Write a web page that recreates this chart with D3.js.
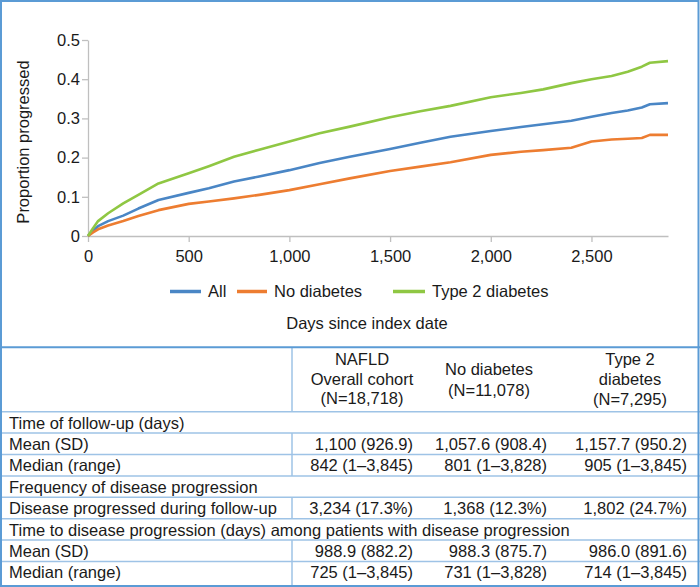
<!DOCTYPE html>
<html>
<head>
<meta charset="utf-8">
<script src="https://cdn.jsdelivr.net/npm/d3@7"></script>
<style>
  html, body { margin: 0; padding: 0; background: #fff; }
  svg { display: block; font-family: "Liberation Sans", Arial, sans-serif; }
</style>
</head>
<body>
<svg id="chart" width="700" height="587"></svg>
<script>
// ---------- DATA ----------
const days        = [0, 25, 50, 100, 175, 250, 350, 500, 600, 725, 850, 1000, 1150, 1300, 1500, 1650, 1800, 2000, 2150, 2260, 2400, 2500, 2600, 2680, 2750, 2790, 2880];
const allValues   = [0, 0.013, 0.025, 0.038, 0.052, 0.070, 0.092, 0.110, 0.122, 0.139, 0.152, 0.168, 0.186, 0.202, 0.222, 0.238, 0.253, 0.268, 0.278, 0.285, 0.294, 0.304, 0.314, 0.320, 0.328, 0.336, 0.339];
const noDiabetes  = [0, 0.009, 0.017, 0.027, 0.038, 0.051, 0.066, 0.082, 0.088, 0.096, 0.105, 0.117, 0.132, 0.147, 0.166, 0.177, 0.188, 0.207, 0.215, 0.219, 0.225, 0.241, 0.246, 0.248, 0.250, 0.258, 0.258];
const type2       = [0, 0.020, 0.038, 0.058, 0.083, 0.105, 0.134, 0.160, 0.178, 0.202, 0.220, 0.241, 0.262, 0.279, 0.303, 0.318, 0.332, 0.354, 0.365, 0.374, 0.390, 0.400, 0.408, 0.419, 0.432, 0.442, 0.446];
const seriesNames = ["All", "No diabetes", "Type 2 diabetes"];
const xTicks      = [0, 500, 1000, 1500, 2000, 2500];
const xTickLabels = ["0", "500", "1,000", "1,500", "2,000", "2,500"];
const yTicks      = [0, 0.1, 0.2, 0.3, 0.4, 0.5];
const yTickLabels = ["0", "0.1", "0.2", "0.3", "0.4", "0.5"];
const xTitle = "Days since index date";
const yTitle = "Proportion progressed";

const colHeaders = [
  ["NAFLD", "Overall cohort", "(N=18,718)"],
  ["No diabetes", "(N=11,078)"],
  ["Type 2", "diabetes", "(N=7,295)"]
];
const tableRows = [
  { label: "Time of follow-up (days)", section: true },
  { label: "Mean (SD)", values: ["1,100 (926.9)", "1,057.6 (908.4)", "1,157.7 (950.2)"] },
  { label: "Median (range)", values: ["842 (1\u20133,845)", "801 (1\u20133,828)", "905 (1\u20133,845)"] },
  { label: "Frequency of disease progression", section: true },
  { label: "Disease progressed during follow-up", values: ["3,234 (17.3%)", "1,368 (12.3%)", "1,802 (24.7%)"] },
  { label: "Time to disease progression (days) among patients with disease progression", section: true },
  { label: "Mean (SD)", values: ["988.9 (882.2)", "988.3 (875.7)", "986.0 (891.6)"] },
  { label: "Median (range)", values: ["725 (1\u20133,845)", "731 (1\u20133,828)", "714 (1\u20133,845)"] }
];

// ---------- STYLE / LAYOUT ----------
const colors = ["#4a86c5", "#ed7d31", "#8fc743"];
const frameColor = "#5b9bd5";
const lineColor = "#9ec3e6";
const textColor = "#1a1a1a";
const axisColor = "#bfbfbf";
const fs = "16.5px";

const svg = d3.select("#chart");
const W = 700, H = 587;

const x = d3.scaleLinear().domain([0, 2880]).range([88, 668]);
const y = d3.scaleLinear().domain([0, 0.5]).range([236, 40]);

// axes
const xAxis = d3.axisBottom(x).tickValues(xTicks)
  .tickFormat((d, i) => xTickLabels[i]).tickSize(6).tickPadding(8).tickSizeOuter(0);
const yAxis = d3.axisLeft(y).tickValues(yTicks)
  .tickFormat((d, i) => yTickLabels[i]).tickSize(6).tickPadding(2).tickSizeOuter(0);

const gx = svg.append("g").attr("transform", `translate(0,${y(0)})`).call(xAxis);
const gy = svg.append("g").attr("transform", `translate(${x(0)},0)`).call(yAxis);
[gx, gy].forEach(g => {
  g.selectAll("path, line").attr("stroke", axisColor).attr("stroke-width", 1.3);
  g.selectAll("text").attr("fill", textColor).style("font-size", fs)
    .style("font-family", "'Liberation Sans', Arial, sans-serif");
});

// lines
const seriesData = [allValues, noDiabetes, type2];
const line = d3.line().x((d, i) => x(days[i])).y(d => y(d));
seriesData.forEach((vals, k) => {
  svg.append("path").datum(vals)
    .attr("d", line)
    .attr("fill", "none")
    .attr("stroke", colors[k])
    .attr("stroke-width", 2.6)
    .attr("stroke-linejoin", "round");
});

// y title
svg.append("text")
  .attr("transform", `translate(29,142) rotate(-90)`)
  .attr("text-anchor", "middle")
  .attr("fill", textColor)
  .style("font-size", fs)
  .text(yTitle);

// legend
const legendItems = [
  { x1: 170, x2: 201, tx: 208 },
  { x1: 237, x2: 267, tx: 274 },
  { x1: 393, x2: 425, tx: 432 }
];
const legendY = 291.5;
seriesNames.forEach((name, k) => {
  const it = legendItems[k];
  svg.append("line").attr("x1", it.x1).attr("x2", it.x2)
    .attr("y1", legendY).attr("y2", legendY)
    .attr("stroke", colors[k]).attr("stroke-width", 3.5);
  svg.append("text").attr("x", it.tx).attr("y", legendY).attr("dy", "0.35em")
    .attr("fill", textColor).style("font-size", fs).text(name);
});

// x title
svg.append("text").attr("x", 367).attr("y", 323).attr("dy", "0.35em")
  .attr("text-anchor", "middle").attr("fill", textColor)
  .style("font-size", fs).text(xTitle);

// ---------- TABLE ----------
const tableTop = 347.3, headerBottom = 411.7, rowH = 21.4;
const colSplit = 292;
const valueRight = [413, 547, 687];
const headerCenter = [362, 489, 630];
const headerLineYs = [[359, 379.3, 398.7], [369.5, 390], [359, 379, 399]];

// header text
colHeaders.forEach((lines, c) => {
  lines.forEach((t, j) => {
    svg.append("text").attr("x", headerCenter[c]).attr("y", headerLineYs[c][j])
      .attr("dy", "0.35em").attr("text-anchor", "middle")
      .attr("fill", textColor).style("font-size", fs).text(t);
  });
});

// header vertical separator
svg.append("line").attr("x1", colSplit).attr("x2", colSplit)
  .attr("y1", tableTop).attr("y2", headerBottom)
  .attr("stroke", lineColor).attr("stroke-width", 1.5);

tableRows.forEach((r, i) => {
  const top = headerBottom + i * rowH;
  const bottom = (i === tableRows.length - 1) ? H - 1 : top + rowH;
  const mid = top + rowH / 2 + 0.5;
  svg.append("line").attr("x1", 0).attr("x2", W).attr("y1", top).attr("y2", top)
    .attr("stroke", lineColor).attr("stroke-width", 1.5);
  svg.append("text").attr("x", 9).attr("y", mid).attr("dy", "0.35em")
    .attr("fill", textColor).style("font-size", fs).text(r.label);
  if (!r.section) {
    svg.append("line").attr("x1", colSplit).attr("x2", colSplit)
      .attr("y1", top).attr("y2", bottom)
      .attr("stroke", lineColor).attr("stroke-width", 1.5);
    r.values.forEach((v, c) => {
      svg.append("text").attr("x", valueRight[c]).attr("y", mid).attr("dy", "0.35em")
        .attr("text-anchor", "end").attr("fill", textColor)
        .style("font-size", fs).text(v);
    });
  }
});

// chart/table divider and outer frame
svg.append("line").attr("x1", 0).attr("x2", W).attr("y1", tableTop).attr("y2", tableTop)
  .attr("stroke", frameColor).attr("stroke-width", 2);
svg.append("rect").attr("x", 1).attr("y", 1).attr("width", W - 2.5).attr("height", H - 2)
  .attr("fill", "none").attr("stroke", frameColor).attr("stroke-width", 2);
</script>
</body>
</html>
